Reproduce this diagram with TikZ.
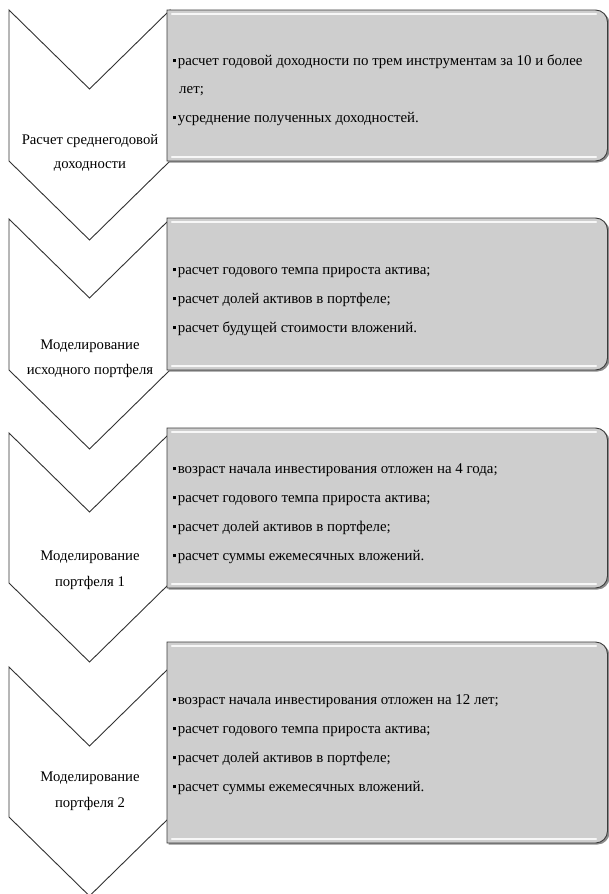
\documentclass[tikz,border=0pt]{standalone}
\usepackage{fontspec}
\setmainfont{Liberation Serif}
\definecolor{boxfill}{RGB}{206,206,206}
\definecolor{boxline}{RGB}{60,60,60}
\definecolor{chevline}{RGB}{50,50,50}
\newcommand\bul{\raisebox{0.2em}{\rule{2.8pt}{2.8pt}}\hspace{1.8pt}}
\begin{document}
\begin{tikzpicture}[x=1pt,y=-1pt,
  chev/.style={draw=chevline, fill=white, line width=0.9pt, line join=miter},
  boxshadow/.style={fill=black!45},
  boxmain/.style={draw=boxline, fill=boxfill, line width=0.9pt},
  hilite/.style={draw=white, line width=2.2pt, opacity=0.85, line cap=round},
  lbl/.style={font=\fontsize{14.7}{16}\selectfont, inner sep=0pt, anchor=base},
  itm/.style={font=\fontsize{14.9}{16}\selectfont, inner sep=0pt, anchor=base west}]
\useasboundingbox (0,0) rectangle (609,894);
\clip (0,0) rectangle (609,894);

% ---------- chevrons ----------
\draw[chev] (9,10) -- (89.5,89) -- (170,10) -- (170,161) -- (89.5,240) -- (9,161) -- cycle;
\draw[chev] (9,219) -- (89.5,298) -- (170,219) -- (170,370) -- (89.5,449) -- (9,370) -- cycle;
\draw[chev] (9,433) -- (89.5,512) -- (170,433) -- (170,583) -- (89.5,662) -- (9,583) -- cycle;
\draw[chev] (9,667) -- (89.5,746) -- (170,667) -- (170,817) -- (89.5,896) -- (9,817) -- cycle;

% ---------- boxes ----------
\foreach \t/\b in {10/161, 218/370, 428/588, 642/843}{
  \fill[boxshadow] (168.5,\t+1.5) [rounded corners=12pt] -- (609.5,\t+1.5) -- (609.5,\b+1.5) [sharp corners] -- (168.5,\b+1.5) -- cycle;
  \draw[boxmain] (167,\t) [rounded corners=12pt] -- (607.5,\t) -- (607.5,\b) [sharp corners] -- (167,\b) -- cycle;
  \draw[hilite] (172,\t+4) -- (596,\t+4);
  \draw[hilite] (172,\b-4) -- (596,\b-4);
}

% ---------- chevron labels ----------
\node[lbl] (c1a) at (90,144) {Расчет среднегодовой};
\node[lbl] (c1b) at (90,168) {доходности};
\node[lbl] (c2a) at (90,349) {Моделирование};
\node[lbl] (c2b) at (90,374) {исходного портфеля};
\node[lbl] (c3a) at (90,560) {Моделирование};
\node[lbl] (c3b) at (90,586) {портфеля 1};
\node[lbl] (c4a) at (90,781) {Моделирование};
\node[lbl] (c4b) at (90,807) {портфеля 2};

% ---------- box items ----------
\node[itm] (b1a) at (173,65) {\bul расчет годовой доходности по трем инструментам за 10 и более};
\node[itm] (b1b) at (179,93) {лет;};
\node[itm] (b1c) at (173,122) {\bul усреднение полученных доходностей.};

\node[itm] (b2a) at (173,274) {\bul расчет годового темпа прироста актива;};
\node[itm] (b2b) at (173,303) {\bul расчет долей активов в портфеле;};
\node[itm] (b2c) at (173,332) {\bul расчет будущей стоимости вложений.};

\node[itm] (b3a) at (173,473) {\bul возраст начала инвестирования отложен на 4 года;};
\node[itm] (b3b) at (173,502) {\bul расчет годового темпа прироста актива;};
\node[itm] (b3c) at (173,531) {\bul расчет долей активов в портфеле;};
\node[itm] (b3d) at (173,560) {\bul расчет суммы ежемесячных вложений.};

\node[itm] (b4a) at (173,704) {\bul возраст начала инвестирования отложен на 12 лет;};
\node[itm] (b4b) at (173,733) {\bul расчет годового темпа прироста актива;};
\node[itm] (b4c) at (173,762) {\bul расчет долей активов в портфеле;};
\node[itm] (b4d) at (173,791) {\bul расчет суммы ежемесячных вложений.};
\end{tikzpicture}
\end{document}
